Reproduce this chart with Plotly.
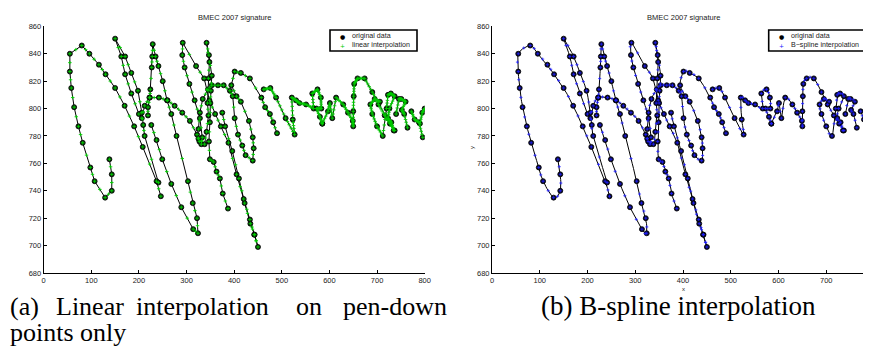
import numpy as np
import plotly.graph_objects as go

# ---------------- data: pen strokes of the signature (x, y) ----------------
s01 = [(138,763),(143,752),(143,740),(129,735),(107,747),(98,757),(82,775),(73,787),(64,801),
       (58,815),(55,827),(55,840),(80,846),(96,840),(116,832),(130,825),(150,815),(170,802),
       (190,787),(208,772),(237,747),(246,736)]
s02 = [(200,796),(184,811),(171,825),(163,838),(150,851),(171,838),(184,826),(198,813),(206,797),
       (209,788),(212,780),(241,746)]
s03 = [(219,795),(219,801),(223,808),(224,814),(227,830),(228,838),(229,847),(235,838),(241,831),
       (250,820),(259,806),(268,796),(279,780),(303,747),(313,731),(322,720),(324,709),(314,712),
       (289,728),(268,745),(249,763),(237,777),(226,788)]
s04 = [(206,793),(212,802),(222,808),(242,808),(260,806),(275,802),(291,797),(307,791),(322,781),
       (327,776)]
s05 = [(331,774),(333,779),(328,793),(317,806),(306,818),(296,830),(291,839),(292,848),(320,831),
       (337,822),(348,806),(360,796),(372,787),(388,775),(405,752),(420,734),(433,719),(442,708),
       (450,699),(443,708),(434,716),(422,731),(410,749),(396,769),(381,787),(375,797)]
s06 = [(325,778),(338,774),(342,783),(346,795),(344,804),(346,822),(348,834),(342,848),(347,839),
       (353,824),(351,813),(350,804),(349,790),(347,776),(349,763),(357,761),(363,754),(370,749),
       (376,738),(387,727)]
s07 = [(325,785),(328,797),(334,807),(345,814),(353,817),(366,817),(378,817),(391,813),(397,809),
       (401,793),(408,781),(417,773),(424,766),(439,762),(441,771),(439,779),(431,791),(414,805),
       (405,809),(394,817),(401,827),(414,826),(433,822),(457,808),(465,801),(475,796),(482,790),
       (490,782)]
s08 = [(462,814),(476,815),(488,808),(508,793),(527,781),(523,792),(521,808),(530,806),(537,804),
       (551,803),(567,800),(564,811),(575,814),(582,808),(583,800),(573,800),(580,794),(585,789)]
s09 = [(585,789),(597,798),(601,804),(606,793),(614,808),(629,803),(639,797),(649,791),(650,787),
       (650,798),(651,809),(652,818),(659,822),(674,822),(690,812),(703,803),(716,795),(727,789),
       (737,784)]
s10 = [(706,805),(695,807),(686,803),(690,796),(700,787),(712,780),(720,800),(723,810),(729,811),
       (737,809),(726,800),(723,793),(730,790),(735,784)]
s11 = [(740,796),(746,807),(751,807),(760,805),(752,799),(757,796),(764,786)]
s12 = [(772,798),(779,792),(788,790),(796,779)]
s13 = [(790,789),(795,797),(800,800)]

strokes = [s01, s02, s03, s04, s05, s06, s07, s08, s09, s10, s11, s12, s13]
# interior interpolation samples per segment (pen-down linear interpolation)
lin_steps = [1, 1, 1, 1, 1, 1, 1, 4, 4, 4, 4, 4, 4]

x_ticks = [0, 100, 200, 300, 400, 500, 600, 700, 800]
y_ticks = [680, 700, 720, 740, 760, 780, 800, 820, 840, 860]

TITLE = "BMEC 2007 signature"
CAP_A1 = ["(a)", "Linear", "interpolation", "on", "pen-down"]
CAP_A2 = "points only"
CAP_B = "(b) B-spline interpolation"

W, H = 871, 346


def px(x):
    return x / W


def py(y):
    return 1 - y / H


def linear_interp(pts, k):
    P = np.asarray(pts, float)
    out = []
    for i in range(len(P) - 1):
        t = np.linspace(0, 1, k + 1, endpoint=False)[:, None]
        out.append(P[i] + (P[i + 1] - P[i]) * t)
    out.append(P[-1:])
    return np.vstack(out)


def spline(pts, n):
    P = np.asarray(pts, float)
    P = np.vstack([2 * P[0] - P[1], P, 2 * P[-1] - P[-2]])
    out = []
    for i in range(1, len(P) - 2):
        p0, p1, p2, p3 = P[i - 1], P[i], P[i + 1], P[i + 2]
        t = np.linspace(0, 1, n, endpoint=False)[:, None]
        a = 2 * p1
        b = p2 - p0
        c = 2 * p0 - 5 * p1 + 4 * p2 - p3
        d = -p0 + 3 * p1 - 3 * p2 + p3
        out.append(0.5 * (a + b * t + c * t ** 2 + d * t ** 3))
    out.append(P[-2][None, :])
    return np.vstack(out)


def join(arrs):
    xs, ys = [], []
    for a in arrs:
        a = np.asarray(a, float)
        xs += list(a[:, 0]) + [None]
        ys += list(a[:, 1]) + [None]
    return xs, ys


fig = go.Figure()

# ---------- left panel (linear) ----------
lx, ly = join(strokes)
fig.add_trace(go.Scatter(x=lx, y=ly, mode="lines", line=dict(color="black", width=1),
                         xaxis="x", yaxis="y", hoverinfo="skip", showlegend=False))
fig.add_trace(go.Scatter(x=lx, y=ly, mode="markers", name="original data",
                         marker=dict(symbol="circle", size=5, color="#0b2e0b",
                                     line=dict(color="black", width=0.8)),
                         xaxis="x", yaxis="y", showlegend=False))
gx, gy = join([linear_interp(s, k) for s, k in zip(strokes, lin_steps)])
fig.add_trace(go.Scatter(x=gx, y=gy, mode="markers", name="linear interpolation",
                         marker=dict(symbol="cross-thin", size=2.5, color="#00cc00",
                                     line=dict(color="#00cc00", width=0.9)),
                         xaxis="x", yaxis="y", showlegend=False))

# ---------- right panel (B-spline) ----------
sx, sy = join([spline(s, 10) for s in strokes])
fig.add_trace(go.Scatter(x=sx, y=sy, mode="lines", line=dict(color="black", width=1),
                         xaxis="x2", yaxis="y2", hoverinfo="skip", showlegend=False))
fig.add_trace(go.Scatter(x=lx, y=ly, mode="markers", name="original data",
                         marker=dict(symbol="circle", size=5, color="#0a0a30",
                                     line=dict(color="black", width=0.8)),
                         xaxis="x2", yaxis="y2", showlegend=False))
bx, by = join([spline(s, 2) for s in strokes])
fig.add_trace(go.Scatter(x=bx, y=by, mode="markers", name="B-spline interpolation",
                         marker=dict(symbol="cross-thin", size=2.2, color="#2020ff",
                                     line=dict(color="#2020ff", width=0.8)),
                         xaxis="x2", yaxis="y2", showlegend=False))

tickfont = dict(family="Liberation Sans, Arial, sans-serif", size=7.5, color="#222")
axis_common = dict(showgrid=False, zeroline=False, showline=True, linecolor="black",
                   linewidth=1, ticks="inside", ticklen=3, tickcolor="black",
                   tickfont=tickfont, mirror=False, automargin=False)

yd = [py(265), py(18.33)]
fig.update_layout(
    template="none",
    width=W, height=H, margin=dict(l=0, r=0, t=0, b=0, pad=0, autoexpand=False),
    paper_bgcolor="white", plot_bgcolor="white", showlegend=False,
    font=dict(family="Liberation Sans, Arial, sans-serif", size=8, color="#222"),
    xaxis=dict(domain=[px(35.67), px(416.67)], range=[0, 800], tickvals=x_ticks,
               anchor="y", **axis_common),
    yaxis=dict(domain=yd, range=[680, 860], tickvals=y_ticks, anchor="x", **axis_common),
    xaxis2=dict(domain=[px(484), px(866)], range=[0, 800], tickvals=x_ticks,
                anchor="y2", ticklabeloverflow="allow", **axis_common),
    yaxis2=dict(domain=yd, range=[680, 860], tickvals=y_ticks, anchor="x2", **axis_common),
)

ann = []
small = dict(family="Liberation Sans, Arial, sans-serif", size=7.5, color="#222")
legfont = dict(family="Liberation Sans, Arial, sans-serif", size=7.1, color="#222")
ann.append(dict(x=px(226), y=py(9.3), xref="paper", yref="paper", text=TITLE,
                showarrow=False, font=small, xanchor="center", yanchor="middle"))
ann.append(dict(x=px(675), y=py(9.3), xref="paper", yref="paper", text=TITLE,
                showarrow=False, font=small, xanchor="center", yanchor="middle"))
ann.append(dict(x=px(464), y=py(140), xref="paper", yref="paper", text="y", textangle=-90,
                showarrow=False, font=dict(family="Liberation Sans", size=6, color="#222"),
                xanchor="center", yanchor="middle"))
ann.append(dict(x=px(675), y=py(281), xref="paper", yref="paper", text="x",
                showarrow=False, font=dict(family="Liberation Sans", size=6, color="#222"),
                xanchor="center", yanchor="middle"))

# legends (drawn as boxes with real text)
shapes = []
for (x0, x1, label, col) in [(322, 409, "linear interpolation", "#00cc00"),
                             (760.7, 857.7, "B\u2212spline interpolation", "#2020ff")]:
    shapes.append(dict(type="rect", xref="paper", yref="paper", x0=px(x0), x1=px(x1),
                       y0=py(43), y1=py(22), line=dict(color="black", width=1.6),
                       fillcolor="white", layer="above"))
    ann.append(dict(x=px(x0 + 12.3), y=py(28.3), xref="paper", yref="paper", text="\u25cf",
                    showarrow=False, font=dict(family="DejaVu Sans", size=6, color="black"),
                    xanchor="center", yanchor="middle"))
    ann.append(dict(x=px(x0 + 12.3), y=py(37.3), xref="paper", yref="paper", text="+",
                    showarrow=False, font=dict(family="DejaVu Sans", size=6, color=col),
                    xanchor="center", yanchor="middle"))
    ann.append(dict(x=px(x0 + 20), y=py(28.3), xref="paper", yref="paper", text="original data",
                    showarrow=False, font=legfont, xanchor="left", yanchor="middle"))
    ann.append(dict(x=px(x0 + 20), y=py(37.3), xref="paper", yref="paper", text=label,
                    showarrow=False, font=legfont, xanchor="left", yanchor="middle"))

# captions
capfont = dict(family="Liberation Serif, Times New Roman, serif", size=26, color="black")
cap_x = [0, 46, 126, 286, 333]
for word, xx in zip(CAP_A1, cap_x):
    ann.append(dict(x=px(xx), y=py(298), xref="paper", yref="paper", text=word,
                    showarrow=False, font=capfont, xanchor="left", yanchor="middle"))
ann.append(dict(x=px(0), y=py(324), xref="paper", yref="paper", text=CAP_A2,
                showarrow=False, font=capfont, xanchor="left", yanchor="middle"))
ann.append(dict(x=px(531), y=py(298), xref="paper", yref="paper", text=CAP_B,
                showarrow=False, font=dict(capfont, size=27), xanchor="left", yanchor="middle"))

fig.update_layout(annotations=ann, shapes=shapes)
fig.write_html("out.html")
